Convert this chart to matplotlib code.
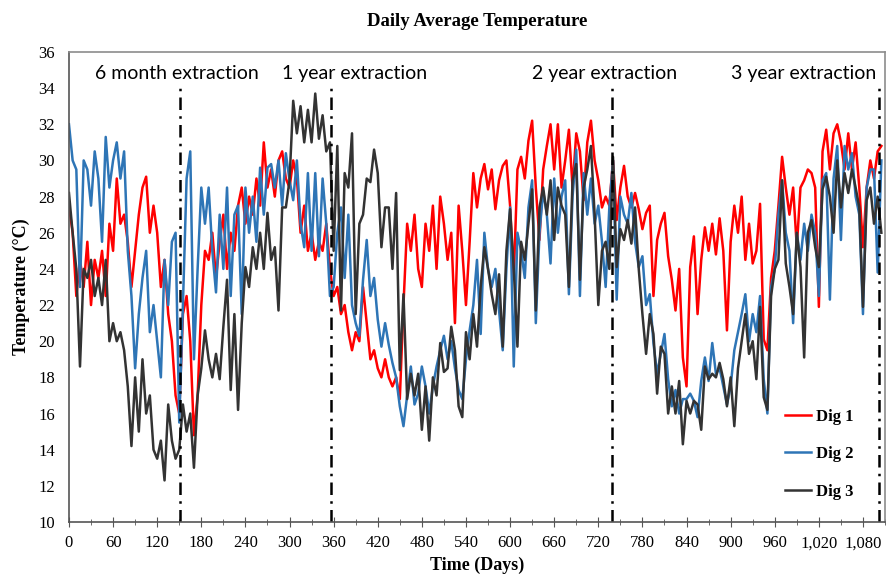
import numpy as np
import matplotlib
matplotlib.use("Agg")
import matplotlib.pyplot as plt
from matplotlib.ticker import MultipleLocator, FuncFormatter

# readings every 5 days
days = list(range(0, 1106, 5))

dig1 = [27.5, 26, 22.5, 24.5, 23, 25.5, 22, 24.5, 23.5, 25, 22.5, 26.5,
        25, 29, 26.5, 27, 25.5, 23, 25, 27, 28.5, 29.1, 26, 27.5,
        26, 23, 24.5, 21.5, 20, 17, 16, 21.5, 22.5, 20, 14.8, 17,
        22, 25, 24.5, 26, 23.5, 25.5, 27, 24, 26, 25, 27.5, 28.5,
        26.5, 28, 27, 29, 27.5, 31, 28.5, 29.5, 28, 30, 30.5, 29,
        28.5, 30, 29, 26, 27.5, 25, 26, 24.5, 25.5, 25, 26.5, 24,
        22.5, 23, 21.5, 22, 20.5, 19.5, 20.5, 20, 23, 21, 19, 19.5,
        18.5, 18, 19, 18, 17.5, 18, 16.8, 22, 26.5, 25, 27, 24,
        23, 26.5, 25, 27.5, 24, 28, 26.5, 24.5, 26, 21, 27.5, 25,
        22, 25.5, 29.3, 27.4, 29, 29.8, 28.4, 29.5, 27.3, 28.9, 29.7, 30,
        27.5, 23.5, 29.5, 30.2, 29, 31.1, 32.2, 28.5, 25.6, 29.5, 30.8, 32,
        29.5, 32, 28.5, 30, 31.7, 28.5, 31.5, 30.5, 27.8, 31, 32.2, 30,
        28.9, 27.4, 28, 27.5, 30, 26.7, 28.5, 29.7, 28, 27.4, 28.2, 27.3,
        26.2, 27.1, 27.5, 22.5, 25.6, 26.5, 27.1, 24.7, 23.4, 21.7, 24, 19.1,
        17.5, 24.1, 25.8, 21.5, 24.5, 26.3, 25, 26.5, 24.8, 26.8, 25, 20.6,
        25.5, 27.5, 26, 28, 24.5, 26.5, 24.3, 25, 27.6, 20.1, 19.5, 23.5,
        25, 27.5, 30.2, 28.5, 27, 28.5, 25.2, 28.5, 28.9, 29.5, 29.3, 28.5,
        21.9, 30.5, 31.7, 29.5, 31.5, 32, 31, 29.5, 31.5, 29.5, 31, 28.5,
        25.2, 28.5, 30, 29, 30.5, 30.8]

dig2 = [32, 30, 29.5, 23, 30, 29.5, 27.5, 30.5, 29, 25.5, 31.3, 28.5,
        30, 31, 29, 30.5, 25, 22.5, 18.5, 21.5, 23.5, 25, 20.5, 22,
        20, 18, 24.5, 22, 25.5, 26, 15.5, 22, 29, 30.5, 19, 24,
        28.5, 26.5, 28.5, 25, 22.7, 27, 24, 28.5, 22.5, 27, 27.5, 21.5,
        28.5, 26, 28, 25.5, 29.6, 27, 29.6, 29.8, 28.5, 30, 27.5, 30.4,
        28.9, 27.8, 30, 26.5, 25.2, 29.3, 25, 29.3, 24.7, 29, 26.5, 22.5,
        23, 26, 27.4, 23.5, 27, 22, 21, 20.3, 23.4, 25.6, 22.5, 23.5,
        21.2, 19.7, 21, 19.8, 18.8, 18, 16.4, 15.3, 17, 18.6, 16.5, 17.1,
        18.6, 17.5, 16, 17.5, 18.6, 19.5, 20.3, 19, 20, 18.5, 17.3, 16.8,
        19, 20.6, 22, 24.5, 20.4, 26, 24, 23, 24, 21.7, 19.5, 24,
        27.4, 18.6, 26, 25, 23.5, 27.4, 28.9, 21, 26, 28.3, 27, 24.3,
        29, 26, 28, 28.9, 22.6, 28, 30.6, 22.5, 29.3, 27, 29, 26.5,
        27.5, 25.5, 23, 27.4, 30, 22.3, 28, 27, 26.5, 28.2, 25.5, 24.1,
        24.7, 22, 22.6, 19.9, 18.2, 19.3, 20.4, 17.9, 16.4, 17.3, 16, 16.8,
        16.8, 17.1, 16.7, 15.8, 17.8, 19.1, 17.8, 19.9, 18.2, 18.5, 17.5, 16.5,
        17.5, 19.5, 20.5, 21.5, 22.6, 20, 21.5, 20.5, 22.5, 17.9, 16, 23,
        24, 27, 28.9, 26, 25, 21, 26, 24.5, 26.5, 25, 27, 26,
        22.5, 28.9, 29.3, 22.3, 29, 30.8, 25.6, 30.8, 29.5, 30.4, 28, 27,
        21.5, 28.5, 29.5, 29.5, 23.8, 30]

dig3 = [28.2, 26, 24, 18.6, 24, 23.5, 24.5, 22.5, 23.5, 22, 24.5, 20,
        21, 20, 20.5, 19.5, 17.5, 14.2, 18, 15, 19, 16, 17, 14,
        13.5, 14.5, 12.3, 16.5, 14.5, 13.5, 14, 16.5, 15, 16, 13, 17,
        18.5, 20.6, 19, 18, 19.3, 17.9, 20.8, 23.4, 17.3, 21.5, 16.2, 21,
        24.1, 23, 25.2, 24, 26, 24, 27.1, 24.5, 25.2, 21.7, 27.4, 27.4,
        28.9, 33.3, 31.5, 33, 31, 32.8, 31, 33.7, 31.2, 32.5, 30.5, 31,
        25, 30.8, 21.7, 29.3, 28.5, 31.5, 21.5, 26.5, 27, 29, 28.8, 30.6,
        29.3, 25.2, 27.4, 27.4, 24, 28.2, 18.4, 22.6, 16.8, 18.2, 17, 18.2,
        15.1, 17.5, 14.5, 18, 17, 19.9, 18.3, 18.5, 20.8, 19.5, 16.4, 15.8,
        20.5, 19, 21.5, 19.7, 23, 25.2, 24, 22.6, 21.5, 23.7, 19.7, 25,
        27.3, 24, 19.7, 25.5, 24.5, 26.5, 28.4, 21.7, 27.4, 28.5, 27, 28.9,
        25.6, 28.5, 27.5, 27, 23, 28.9, 29.8, 23.4, 28.5, 29.5, 30.8, 27,
        22, 25, 25.5, 24, 30.2, 24.1, 26.2, 25.6, 26.7, 25.4, 27.4, 24,
        21.5, 19.3, 21.5, 20.4, 17.1, 19.7, 19.3, 16, 17.5, 16, 17.8, 14.3,
        16.7, 16, 16.7, 16.5, 15.1, 18.6, 17.9, 18.2, 18, 18.8, 17.9, 16.4,
        18, 15.3, 18.5, 20, 21.5, 19.3, 20, 17.9, 21.9, 16.9, 16.2, 22.5,
        24, 24.5, 28.9, 24.3, 23, 21.5, 26, 24.1, 19.1, 26, 26.7, 25.2,
        24.1, 28.4, 29.1, 28, 26, 30, 27.4, 29.3, 28.2, 29.5, 28.5, 27.4,
        21.9, 27.8, 28.5, 26.5, 28, 26]

extraction_days = [151, 356, 739, 1102]
extraction_labels = ["6 month extraction", "1 year extraction",
                     "2 year extraction", "3 year extraction"]
label_days = [147, 389, 729, 999]

serif = "Liberation Serif"

fig = plt.figure(figsize=(8.91, 5.84), dpi=100)
ax = fig.add_axes([0.0774, 0.1062, 0.9159, 0.8048])

ax.plot(days, dig1, color="#ff0000", lw=1.8, label="Dig 1")
ax.plot(days, dig2, color="#2e75b6", lw=1.8, label="Dig 2")
ax.plot(days, dig3, color="#333333", lw=1.8, label="Dig 3")

for d in extraction_days:
    ax.plot([d, d], [10, 34], color="black", lw=1.8, ls=(0, (5, 2.5, 1, 2.5)))

for d, t in zip(label_days, extraction_labels):
    ax.text(d, 34.8, t, ha="center", va="center", fontsize=14, family="Lato")

ax.set_xlim(0, 1110)
ax.set_ylim(10, 36)
ax.xaxis.set_major_locator(MultipleLocator(60))
ax.xaxis.set_minor_locator(MultipleLocator(30))
ax.yaxis.set_major_locator(MultipleLocator(2))
ax.xaxis.set_major_formatter(FuncFormatter(lambda v, p: "{:,}".format(int(v))))
ax.tick_params(axis="x", which="both", direction="inout", length=7, color="#555555", pad=6)
ax.tick_params(axis="x", which="minor", length=5)
ax.tick_params(axis="y", length=0, pad=10)
for lab in ax.get_xticklabels() + ax.get_yticklabels():
    lab.set_family(serif)
    lab.set_fontsize(12)
for sp in ax.spines.values():
    sp.set_color("#8c8c8c")
    sp.set_linewidth(1.2)
ax.spines["bottom"].set_color("#555555")
ax.spines["left"].set_color("#555555")

ax.set_title("Daily Average Temperature", family=serif, fontweight="bold", fontsize=13.5, pad=19)
ax.set_xlabel("Time (Days)", family=serif, fontweight="bold", fontsize=13, labelpad=4)
ax.set_ylabel("Temperature (°C)", family=serif, fontweight="bold", fontsize=13, labelpad=6)

leg = ax.legend(loc="lower right", bbox_to_anchor=(0.98, 0.015), frameon=False,
                handlelength=1.6, handletextpad=0.3, labelspacing=1.3,
                prop={"family": serif, "weight": "bold", "size": 12})

fig.savefig("out.png", dpi=100)
